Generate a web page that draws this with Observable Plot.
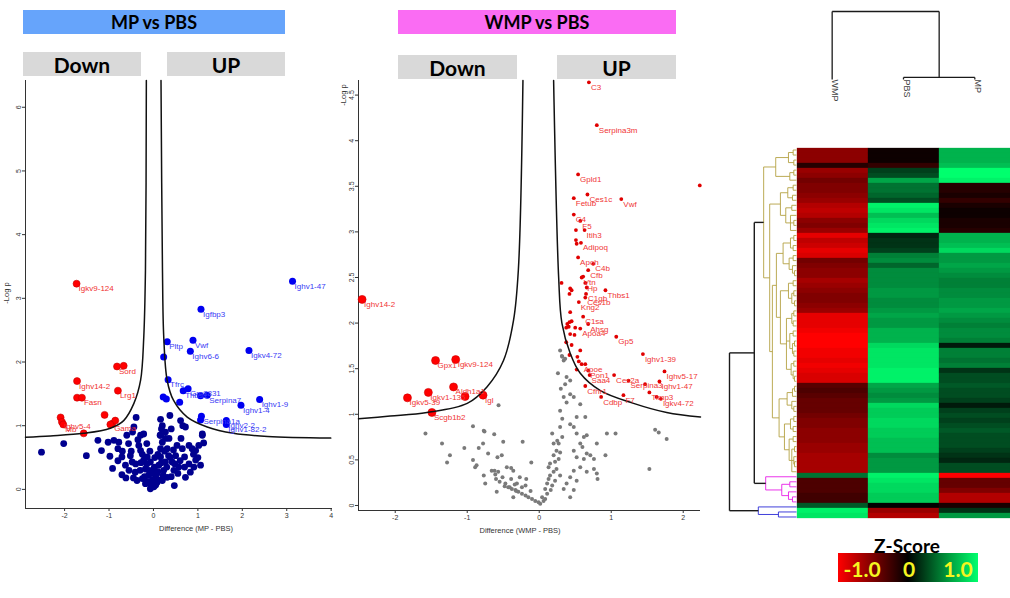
<!DOCTYPE html>
<html><head><meta charset="utf-8">
<script src="https://cdn.jsdelivr.net/npm/d3@7"></script>
<script src="https://cdn.jsdelivr.net/npm/@observablehq/plot@0.6"></script>
<style>
body{margin:0;background:#fff;}
#root{position:relative;width:1010px;height:598px;overflow:hidden;font-family:Lato,"Open Sans",sans-serif;background:#fff;}
.box{position:absolute;display:flex;align-items:center;justify-content:center;font-weight:bold;color:#000;box-sizing:border-box;}
.lbl{position:absolute;white-space:nowrap;font-family:"Liberation Sans",Arial,sans-serif;color:#333;}
</style></head><body><div id="root"></div>
<script>
// ---------------- DATA ----------------
// MP vs PBS volcano: [label, difference, -log p]
const mpDown = [["Igkv9-124",-1.73,3.23],["Sord",-0.82,1.93],["",-0.67,1.94],["Ighv14-2",-1.72,1.70],["Lrg1",-0.80,1.55],["",-1.72,1.44],["Fasn",-1.61,1.44],["",-2.09,1.13],["Ighv5-4",-2.06,1.06],["Mb",-2.03,1.02],["",-1.57,0.88],["",-1.10,1.17],["Gama",-0.93,1.03],["",-0.86,1.08],["",-0.97,1.02]];
const mpUp = [["Ighv1-47",3.13,3.27],["Igfbp3",1.07,2.83],["Pltp",0.31,2.32],["Vwf",0.89,2.34],["Ighv6-6",0.83,2.17],["Igkv4-72",2.15,2.18],["",0.23,2.08],["Tfrc",0.33,1.72],["",0.22,1.45],["",0.29,1.42],["",0.59,1.37],["Thbs1",0.67,1.55],["Gm8831",0.78,1.58],["",1.06,1.47],["Serpina7",1.21,1.48],["Ighv1-4",1.97,1.32],["Ighv1-9",2.39,1.41],["Serpina1a",1.08,1.15],["",1.06,1.09],["Ighv2-2",1.64,1.08],["Ighv1-82-2",1.64,1.02]];
const mpNs = [[-2.52,0.585],[-2.02,0.72],[-1.51,0.53],[-1.25,0.77],[-1.17,0.61],[-1.02,0.74],[-0.89,0.77],[-0.78,0.74],[-0.98,0.52],[-0.92,0.33],[-0.80,0.64],[-0.71,0.51],[-0.63,0.38],[-0.71,0.23],[-0.56,0.72],[-0.47,0.90],[-0.39,1.13],[-0.44,0.98],[-0.29,0.85],[-0.22,0.87],[-0.33,0.69],[-0.29,0.61],[-0.52,0.53],[-0.48,0.43],[-0.41,0.27],[-0.37,0.14],[-0.25,0.17],[-0.18,0.09],[-0.07,0.01],[0.01,0.04],[-0.03,0.09],[0.08,0.11],[-0.11,0.22],[-0.18,0.32],[-0.22,0.46],[-0.14,0.51],[-0.07,0.43],[0.01,0.32],[0.08,0.25],[0.12,0.38],[0.16,0.51],[0.16,0.64],[0.20,0.74],[0.16,0.85],[0.18,0.95],[0.16,1.10],[0.20,1.00],[0.27,0.90],[0.27,0.80],[0.31,0.64],[0.34,0.53],[0.27,0.43],[0.23,0.30],[0.31,0.19],[0.20,0.14],[0.42,0.43],[0.46,0.30],[0.50,0.53],[0.53,0.69],[0.47,0.06],[0.57,0.35],[0.65,0.64],[0.70,0.51],[0.72,0.19],[0.83,0.27],[0.80,0.69],[0.87,0.64],[0.95,0.61],[1.02,0.69],[0.95,0.46],[1.06,0.38],[0.91,0.35],[1.13,0.73],[1.10,0.85],[0.72,0.98],[0.61,1.08],[0.37,1.16],[0.66,1.00],[1.10,0.87],[-0.05,0.05],[0.05,0.07],[-0.12,0.12],[0.12,0.15],[-0.2,0.2],[0.22,0.22],[-0.3,0.3],[0.3,0.35],[-0.1,0.3],[0.05,0.2],[-0.02,0.15],[0.1,0.28],[-0.15,0.4],[0.18,0.42],[-0.4,0.4],[0.38,0.5],[-0.25,0.55],[0.25,0.6],[-0.5,0.6],[0.45,0.62],[-0.35,0.78],[0.35,0.8],[-0.6,0.85],[0.1,0.55],[-0.08,0.6],[0.02,0.35],[0.55,0.25],[0.6,0.45],[-0.45,0.18],[-0.55,0.3],[0.7,0.35],[0.8,0.4],[0.9,0.55],[1.0,0.5],[-0.7,0.6],[-0.8,0.45],[0.62,0.8],[0.4,0.95],[-0.15,0.72],[0.15,0.85],[-0.05,0.25],[0.03,0.5],[-0.28,0.42],[0.4,0.2],[0.48,0.4],[-0.62,0.18]];
const mpCurveLeft = [[-2.88,0.82],[-2.32,0.84],[-1.57,0.88],[-0.97,0.96],[-0.67,1.08],[-0.44,1.35],[-0.29,1.71],[-0.218,2.39],[-0.18,3.44],[-0.16,6.42]];
const mpCurveRight = [[0.17,6.42],[0.203,3.44],[0.232,2.39],[0.309,1.71],[0.45,1.40],[0.76,1.135],[1.21,0.98],[1.80,0.88],[2.57,0.83],[3.99,0.805]];
const mpXTicks = [-2,-1,0,1,2,3,4];
const mpYTicks = [0,1,2,3,4,5,6];

// WMP vs PBS volcano
const wmpDown = [["Ighv14-2",-2.46,2.26],["Gpx1",-1.44,1.59],["Igkv9-124",-1.16,1.60],["Aldh1a1",-1.19,1.30],["Igkv1-135",-1.54,1.24],["",-1.03,1.195],["Igl",-0.78,1.21],["Igkv5-39",-1.83,1.18],["Scgb1b2",-1.49,1.02]];
const wmpUp = [["C3",0.69,4.64],["Serpina3m",0.80,4.17],["Gpld1",0.54,3.63],["Ces1c",0.67,3.41],["Fetub",0.48,3.37],["Vwf",1.14,3.36],["",2.23,3.51],["C4",0.48,3.19],["F5",0.57,3.12],["Itih3",0.63,3.02],["",0.51,3.02],["",0.51,2.91],["",0.52,2.87],["Adipoq",0.58,2.88],["Apoh",0.54,2.72],["C4b",0.75,2.65],["Cfb",0.68,2.58],["",0.61,2.51],["Vtn",0.59,2.50],["Hp",0.64,2.44],["",0.66,2.39],["",0.31,2.44],["",0.43,2.38],["",0.45,2.36],["",0.42,2.32],["C1qb",0.65,2.32],["Thbs1",0.92,2.36],["Ces1b",0.64,2.28],["Kng2",0.55,2.23],["",0.43,2.12],["C1sa",0.61,2.07],["Ahsg",0.68,1.99],["",0.39,1.99],["",0.42,2.01],["",0.45,2.02],["",0.375,1.95],["",0.41,1.96],["",0.50,1.95],["Apoa4",0.57,1.94],["",0.43,1.88],["",0.49,1.87],["Gp5",1.07,1.85],["",0.375,1.79],["",0.45,1.76],["",0.57,1.70],["",0.42,1.65],["",0.53,1.63],["Ighv1-39",1.44,1.66],["",0.55,1.58],["Apoe",0.59,1.55],["",0.64,1.55],["",0.52,1.49],["Pon1",0.68,1.48],["Saa4",0.70,1.43],["Ighv5-17",1.74,1.47],["Ces2a",1.04,1.43],["Serpina3",1.24,1.37],["Ighv1-47",1.67,1.36],["",1.47,1.33],["Cfhr1",0.64,1.31],["Timp3",1.53,1.24],["",1.63,1.19],["Igkv4-72",1.69,1.17],["F7",1.17,1.21],["Cdbp",0.86,1.19]];
const wmpNs = [[-1.58,0.79],[-1.35,0.68],[-1.24,0.55],[-1.28,0.47],[-1.04,0.63],[-0.92,0.50],[-0.89,0.42],[-0.87,0.44],[-0.77,0.33],[-0.75,0.24],[-0.625,0.78],[-0.565,1.10],[-0.76,0.81],[-0.50,0.70],[-0.23,0.70],[-0.11,0.47],[-0.66,0.38],[-0.61,0.34],[-0.60,0.29],[-0.55,0.26],[-0.51,0.31],[-0.47,0.24],[-0.43,0.20],[-0.38,0.18],[-0.33,0.17],[-0.29,0.15],[-0.24,0.13],[-0.19,0.11],[-0.15,0.09],[-0.10,0.07],[-0.055,0.05],[-0.009,0.035],[0.014,0.02],[-0.39,0.29],[-0.31,0.24],[-0.24,0.20],[-0.36,0.38],[-0.27,0.31],[-0.19,0.22],[-0.45,0.42],[-0.36,0.09],[-0.12,0.16],[0.06,0.05],[0.083,0.07],[0.11,0.13],[0.04,0.09],[0.16,0.17],[0.083,0.18],[0.18,0.22],[0.11,0.24],[0.22,0.27],[0.13,0.29],[0.29,0.33],[0.15,0.33],[0.20,0.37],[0.24,0.40],[0.13,0.42],[0.15,0.46],[0.22,0.48],[0.27,0.51],[0.20,0.55],[0.29,0.58],[0.24,0.60],[0.27,0.68],[0.25,0.71],[0.20,0.68],[0.18,0.79],[0.32,0.75],[0.29,0.86],[0.32,0.95],[0.29,1.04],[0.38,1.13],[0.34,1.19],[0.43,1.22],[0.48,1.19],[0.36,1.33],[0.43,1.37],[0.38,1.41],[0.32,1.63],[0.34,1.59],[0.29,1.70],[0.43,0.89],[0.48,0.86],[0.52,0.97],[0.57,1.11],[0.52,0.79],[0.62,0.75],[0.66,0.77],[0.57,0.68],[0.60,0.64],[0.48,0.60],[0.66,0.57],[0.52,0.53],[0.62,0.51],[0.71,0.55],[0.76,0.51],[0.80,0.68],[0.94,0.79],[1.06,0.79],[0.92,0.55],[0.80,0.35],[0.81,0.29],[0.66,0.37],[0.76,0.40],[0.57,0.42],[0.48,0.38],[0.43,0.31],[0.52,0.27],[0.38,0.24],[0.34,0.18],[0.48,0.17],[0.43,0.09],[1.61,0.83],[1.66,0.80],[1.77,0.73],[1.53,0.40],[0.64,0.97],[-0.92,0.87],[-0.77,0.82],[-0.84,0.63],[-0.78,0.68],[-0.71,0.57],[-0.58,0.53],[-0.52,0.55],[-0.62,0.38],[-0.57,0.37],[-0.39,0.41],[-0.18,0.29],[-0.48,0.21],[-0.41,0.20],[-0.34,0.23],[-0.32,0.16],[-0.59,0.15],[0.315,1.64],[0.36,1.61],[0.26,1.45],[0.30,1.28]];
const wmpCurveLeft = [[-2.51,0.95],[-2.07,0.98],[-1.56,1.02],[-1.00,1.12],[-0.726,1.30],[-0.496,1.59],[-0.357,2.03],[-0.29,2.58],[-0.226,4.66]];
const wmpCurveRight = [[0.2,4.66],[0.27,2.5],[0.315,2.0],[0.43,1.67],[0.57,1.45],[0.85,1.26],[1.31,1.12],[1.77,1.02],[2.24,0.97]];
const wmpXTicks = [-2,-1,0,1,2];
const wmpYTicks = [0,0.5,1,1.5,2,2.5,3,3.5,4,4.5];

// Heatmap (z-scores), 74 proteins x 3 groups
const groups = ["WMP","PBS","MP"];
const hmWMP = [-0.55,-0.55,-0.55,-0.15,-0.6,-0.55,-0.45,-0.5,-0.5,-0.55,-0.6,-0.7,-0.75,-0.7,-0.55,-0.5,-0.6,-0.9,-0.75,-0.8,-0.9,-0.85,-0.45,-0.5,-0.55,-0.55,-0.65,-0.6,-0.55,-0.5,-0.5,-0.55,-0.6,-0.9,-0.9,-0.9,-0.95,-1.0,-1.0,-1.0,-0.95,-0.95,-0.9,-0.95,-0.9,-0.85,-0.85,-0.35,-0.3,-0.35,-0.4,-0.4,-0.4,-0.45,-0.5,-0.5,-0.55,-0.55,-0.55,-0.6,-0.6,-0.65,-0.65,-0.65,-0.65,0.45,-0.3,-0.3,-0.3,-0.25,-0.25,0.35,0.95,0.9];
const hmPBS = [-0.05,-0.05,-0.05,-0.2,0.25,0.3,0.65,0.45,0.45,0.4,0.3,0.95,0.9,0.75,0.85,0.9,0.95,0.15,0.2,0.2,0.25,0.5,0.55,0.4,0.55,0.55,0.55,0.55,0.6,0.6,0.55,0.55,0.6,0.65,0.6,0.6,0.7,0.7,0.7,0.85,0.9,0.9,0.9,0.9,0.95,0.95,0.95,0.65,0.6,0.55,0.6,0.85,0.8,0.8,0.85,0.85,0.8,0.8,0.75,0.75,0.75,0.55,0.6,0.6,0.6,0.95,0.9,0.85,0.85,0.8,0.8,0.0,-0.6,-0.7];
const hmMP = [0.7,0.7,0.7,0.75,1.0,1.0,0.95,-0.15,-0.15,-0.1,-0.2,-0.1,-0.05,-0.05,-0.1,-0.1,-0.15,0.7,0.7,0.75,0.85,0.6,0.6,0.65,0.6,0.55,0.5,0.5,0.55,0.55,0.6,0.6,0.65,0.6,0.55,0.5,0.55,0.55,0.5,0.1,0.5,0.5,0.45,0.5,0.2,0.3,0.3,0.35,0.3,0.3,0.25,0.1,0.25,0.3,0.25,0.3,0.35,0.3,0.3,0.3,0.25,0.2,0.15,0.3,0.3,-1.0,-0.4,-0.4,-0.5,-0.7,-0.7,-0.1,0.2,0.6];

// Row dendrogram: [height, child, child, ...], leaves = row index
const rowTree = [1.0,
 [0.63,
  [0.49,
   [0.31,[0.12,[0.05,0,1],[0.04,2,3]],[0.10,[0.04,4,5],6]],
   [0.40,
    [0.24,[0.13,[0.05,7,8],[0.06,9,10]],[0.16,[0.07,11,12],[0.09,13,[0.04,14,15],16]]],
    [0.36,
     [0.30,
      [0.20,[0.09,[0.04,17,18],[0.05,19,20]],[0.11,[0.05,21,22],[0.06,23,[0.03,24,25]]]],
      [0.24,[0.12,[0.05,26,27],[0.07,[0.04,28,29],[0.03,30,31]]],[0.15,[0.07,[0.04,32,33],[0.05,34,35]],[0.10,[0.05,36,37],[0.06,[0.03,38,39],[0.04,40,41]]],[0.08,[0.04,42,43],[0.05,44,[0.03,45,46]]]]]],
     [0.26,[0.14,[0.06,[0.03,47,48],49],[0.07,50,[0.04,51,52]]],[0.18,[0.09,[0.04,53,54],[0.05,55,56]],[0.11,[0.05,57,58],[0.07,[0.03,59,60],[0.04,61,[0.03,62,63]],64]]]]]]],
  [0.46,65,[0.22,[0.10,66,67],[0.12,68,[0.06,69,70]]]]],
 [0.57,71,[0.27,72,73]]];
const colTree = [1.0, 0, [0.03, 1, 2]];
const clusterColors = {olive:"#b4a243", magenta:"#e81ee8", blue:"#2a2ad6", top:"#1a1a1a"};

// ---------------- HELPERS ----------------
const root = document.getElementById("root");
function put(el, left, top){ el.style.position="absolute"; el.style.left=left+"px"; el.style.top=top+"px"; root.appendChild(el); return el; }
function box(text, left, top, w, h, bg, fs){
  const d=document.createElement("div"); d.className="box"; d.textContent=text;
  d.style.width=w+"px"; d.style.height=h+"px"; d.style.background=bg; d.style.fontSize=fs+"px";
  return put(d,left,top);
}
function label(text, cx, cy, fs, rot, extra){
  const d=document.createElement("div"); d.className="lbl"; d.textContent=text; d.style.fontSize=fs+"px";
  d.style.transform="translate(-50%,-50%)"+(rot?` rotate(${rot}deg)`:""); if(extra) Object.assign(d.style, extra);
  return put(d,cx,cy);
}
function buildLinks(tree, blackMin, colorOf){
  const links=[];
  function walk(n){
    if(typeof n==="number") return {pos:n,h:0,first:n};
    const [h,...kids]=n; const cs=kids.map(walk);
    const color = h>=blackMin ? clusterColors.top : colorOf(cs[0].first);
    const p0=cs[0].pos, p1=cs[cs.length-1].pos;
    links.push({h1:h,h2:h,p1:p0,p2:p1,color});
    for(const c of cs) links.push({h1:h,h2:c.h,p1:c.pos,p2:c.pos,color});
    return {pos:(p0+p1)/2,h,first:cs[0].first};
  }
  walk(tree); return links;
}
const axisStyle = {fontFamily:"'Liberation Sans',Arial,sans-serif", fontSize:"7px", background:"transparent", color:"#333", overflow:"visible"};
const plain = d => String(d);

// ---------------- BANNERS ----------------
box("MP vs PBS",23,10,262,24,"#66a4fb",18);
box("Down",23,52,118,24,"#d9d9d9",21);
box("UP",167,52,118,24,"#d9d9d9",21);
box("WMP vs PBS",398,10,278,24,"#fa6cf3",18);
box("Down",398,55,119,24,"#d9d9d9",21);
box("UP",557,55,119,24,"#d9d9d9",21);

// ---------------- MP vs PBS ----------------
const mpX=[-2.88,4.03], mpY=[-0.3,6.42];
const px = d=>d[1], py = d=>d[2];
const mpPlot = Plot.plot({
  width:340, height:470, marginLeft:25, marginRight:8, marginTop:10, marginBottom:32,
  style: axisStyle,
  x:{domain:mpX}, y:{domain:mpY},
  marks:[
    Plot.axisX({ticks:mpXTicks, tickFormat:plain, tickSize:3, tickPadding:2, label:null}),
    Plot.axisY({ticks:mpYTicks, tickFormat:plain, tickSize:3, tickPadding:2, tickRotate:-90, label:null}),
    Plot.ruleX([mpX[0]],{stroke:"#333"}),
    Plot.ruleY([mpY[0]],{stroke:"#333"}),
    Plot.dot(mpNs,{x:d=>d[0], y:d=>d[1], r:3.4, fill:"#00008f"}),
    Plot.dot(mpDown,{x:px, y:py, r:3.5, fill:"#ff0000", stroke:"#c80000", strokeWidth:0.6}),
    Plot.dot(mpUp,{x:px, y:py, r:3.5, fill:"#0000f0"}),
    Plot.line(mpCurveLeft,{x:d=>d[0], y:d=>d[1], stroke:"#111", strokeWidth:1.5, curve:"catmull-rom"}),
    Plot.line(mpCurveRight,{x:d=>d[0], y:d=>d[1], stroke:"#111", strokeWidth:1.5, curve:"catmull-rom"}),
    Plot.text(mpDown.filter(d=>d[0]),{x:px, y:py, text:d=>d[0], dx:2, dy:5, textAnchor:"start", fill:"#f03030", fontSize:8}),
    Plot.text(mpUp.filter(d=>d[0]),{x:px, y:py, text:d=>d[0], dx:2, dy:5, textAnchor:"start", fill:"#3a3af5", fontSize:8})
  ]
});
put(mpPlot,0,70);
label("Difference (MP - PBS)",196,528,7.5);
label("-Log p",6,293,7.5,-90);

// ---------------- WMP vs PBS ----------------
const wX=[-2.51,2.24], wY=[-0.055,4.66];
const wPlot = Plot.plot({
  width:375, height:470, marginLeft:23, marginRight:10, marginTop:10, marginBottom:30,
  style: axisStyle,
  x:{domain:wX}, y:{domain:wY},
  marks:[
    Plot.axisX({ticks:wmpXTicks, tickFormat:plain, tickSize:3, tickPadding:2, label:null}),
    Plot.axisY({ticks:wmpYTicks, tickFormat:plain, tickSize:3, tickPadding:2, tickRotate:-90, label:null}),
    Plot.ruleX([wX[0]],{stroke:"#333"}),
    Plot.ruleY([wY[0]],{stroke:"#333"}),
    Plot.dot(wmpNs,{x:d=>d[0], y:d=>d[1], r:2, fill:"#7a7a7a"}),
    Plot.dot(wmpUp,{x:px, y:py, r:1.9, fill:"#e00000"}),
    Plot.dot(wmpDown,{x:px, y:py, r:4, fill:"#ff0000", stroke:"#d00000", strokeWidth:0.6}),
    Plot.line(wmpCurveLeft,{x:d=>d[0], y:d=>d[1], stroke:"#111", strokeWidth:1.5, curve:"catmull-rom"}),
    Plot.line(wmpCurveRight,{x:d=>d[0], y:d=>d[1], stroke:"#111", strokeWidth:1.5, curve:"catmull-rom"}),
    Plot.text(wmpUp.filter(d=>d[0]),{x:px, y:py, text:d=>d[0], dx:2, dy:5, textAnchor:"start", fill:"#f03535", fontSize:8}),
    Plot.text(wmpDown.filter(d=>d[0]),{x:px, y:py, text:d=>d[0], dx:2, dy:5, textAnchor:"start", fill:"#f03535", fontSize:8})
  ]
});
put(wPlot,335,70);
label("Difference (WMP - PBS)",520,530,7.5);
label("-Log p",343,95,7.5,-90);

// ---------------- HEATMAP ----------------
const cells=[];
hmWMP.forEach((z,i)=>cells.push({row:i,col:"WMP",z}));
hmPBS.forEach((z,i)=>cells.push({row:i,col:"PBS",z}));
hmMP.forEach((z,i)=>cells.push({row:i,col:"MP",z}));
const nRows = hmWMP.length;
const heat = Plot.plot({
  width:214, height:372, margin:0,
  style:{background:"transparent"},
  x:{domain:groups, axis:null, padding:0},
  y:{domain:d3.range(nRows), axis:null, padding:0},
  color:{type:"linear", domain:[-1,0,1], range:["#ff0000","#000000","#00ff6e"], interpolate:"rgb"},
  marks:[Plot.cell(cells,{x:"col", y:"row", fill:"z", stroke:"z", strokeWidth:0.3, inset:0})]
});
put(heat,796,147);

// Row dendrogram
const rowLinks = buildLinks(rowTree, 0.6, f => f>=71 ? clusterColors.blue : f>=65 ? clusterColors.magenta : clusterColors.olive);
const rowDen = Plot.plot({
  width:70, height:372, marginLeft:3, marginRight:0, marginTop:0, marginBottom:0,
  style:{background:"transparent", overflow:"visible"},
  x:{domain:[1,0], axis:null}, y:{domain:[nRows-0.5,-0.5], axis:null},
  marks:[Plot.link(rowLinks,{x1:"h1", x2:"h2", y1:"p1", y2:"p2", stroke:"color", strokeWidth:d=>d.color===clusterColors.top?1.4:0.9})]
});
put(rowDen,726,147);

// Column dendrogram
const colLinks = buildLinks(colTree, 0, ()=>clusterColors.top);
const colDen = Plot.plot({
  width:214, height:110, marginLeft:0, marginRight:0, marginTop:11, marginBottom:31,
  style:{background:"transparent", overflow:"visible", fontFamily:"'Liberation Sans',Arial,sans-serif"},
  x:{domain:[-0.5,groups.length-0.5], axis:null}, y:{domain:[0,1], axis:null},
  marks:[
    Plot.link(colLinks,{x1:"p1", x2:"p2", y1:"h1", y2:"h2", stroke:"color", strokeWidth:1.3}),
    Plot.text(groups,{x:(d,i)=>i, y:0, text:d=>d, rotate:90, textAnchor:"start", dx:3, fontSize:9, fill:"#444"})
  ]
});
put(colDen,796,0);

// ---------------- Z-SCORE KEY ----------------
label("Z-Score",907,545,19,0,{fontFamily:"Lato,'Open Sans',sans-serif",fontWeight:"bold",color:"#000"});
const bar=document.createElement("div");
Object.assign(bar.style,{width:"140px",height:"29px",background:"linear-gradient(to right,#ff0000 0%,#c00000 12%,#000000 50%,#00a040 80%,#00ff6e 100%)"});
put(bar,838,553);
const zs={fontFamily:"Lato,'Open Sans',sans-serif",fontWeight:"bold",color:"#f5f520"};
label("-1.0",862,568,21,0,zs);
label("0",909,568,21,0,zs);
label("1.0",958,568,21,0,zs);
</script></body></html>
